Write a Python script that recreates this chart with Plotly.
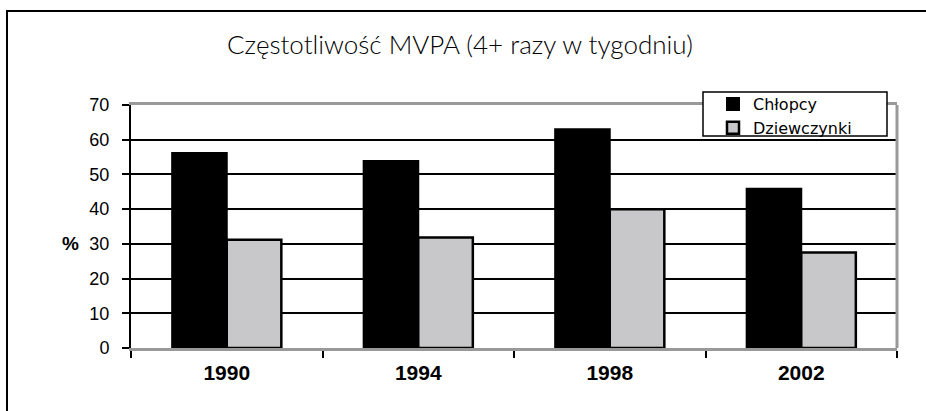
import plotly.graph_objects as go

years = ["1990", "1994", "1998", "2002"]
boys = [56.2, 53.9, 63.0, 45.9]
girls = [31.2, 31.8, 40.0, 27.5]
series_names = ["Chłopcy", "Dziewczynki"]
title_text = "Częstotliwość MVPA (4+ razy w tygodniu)"
y_ticks = [0, 10, 20, 30, 40, 50, 60, 70]

W, H = 926, 411
L, R, T, B = 131, 29, 105, 63
pw, ph = W - L - R, H - T - B

def px_x(x):
    return (x - L) / pw

def px_y(y):
    return (H - B - y) / ph

fig = go.Figure()
fig.add_trace(go.Bar(x=years, y=boys, name=series_names[0],
                     marker=dict(color="#000000", line=dict(color="#000000", width=2))))
fig.add_trace(go.Bar(x=years, y=girls, name=series_names[1],
                     marker=dict(color="#c8c8ca", line=dict(color="#000000", width=2.5))))

shapes = [
    # outer frame
    dict(type="rect", xref="paper", yref="paper",
         x0=px_x(7), x1=px_x(940), y0=px_y(430), y1=px_y(11),
         line=dict(color="#000000", width=2), fillcolor="rgba(0,0,0,0)", layer="below"),
    # right gray border of plot area
    dict(type="line", xref="paper", yref="paper", x0=1, x1=1, y0=0, y1=1,
         line=dict(color="#999999", width=3)),
    # legend box
    dict(type="rect", xref="paper", yref="paper",
         x0=px_x(703), x1=px_x(887), y0=px_y(136), y1=px_y(92),
         line=dict(color="#000000", width=1.5), fillcolor="#ffffff", layer="above"),
]

annotations = [
    dict(text="<b>%</b>", xref="paper", yref="paper", x=px_x(70), y=px_y(243),
         xanchor="center", yanchor="middle", showarrow=False,
         font=dict(family="Liberation Sans, Arial", size=19, color="#000000")),
]

fig.update_layout(
    width=W, height=H,
    margin=dict(l=L, r=R, t=T, b=B),
    paper_bgcolor="#ffffff", plot_bgcolor="rgba(0,0,0,0)",
    barmode="group", bargap=0.43, bargroupgap=0,
    showlegend=True,
    legend=dict(x=px_x(713), y=px_y(87), xanchor="left", yanchor="top",
                bgcolor="rgba(0,0,0,0)", borderwidth=0,
                font=dict(family="DejaVu Sans", size=16, color="#000000"),
                itemwidth=30, tracegroupgap=0),
    title=dict(text=title_text, x=460 / W, xref="container", xanchor="center",
               y=1 - 45 / H, yanchor="middle",
               font=dict(family="Lato, Open Sans", size=26, color="#000000", weight=300)),
    shapes=shapes,
    annotations=annotations,
    xaxis=dict(type="category", showline=True, linecolor="#999999", linewidth=2.5, mirror=True,
               ticks="outside", tickson="boundaries", ticklen=7, tickcolor="#000000", tickwidth=1.5,
               showgrid=False, ticklabelstandoff=4,
               tickfont=dict(family="Liberation Sans, Arial", size=21, color="#000000", weight="bold")),
    yaxis=dict(range=[0, 70], tickvals=y_ticks, showline=True, linecolor="#000000", linewidth=2,
               ticks="outside", ticklen=7, tickcolor="#000000", tickwidth=1.5,
               showgrid=True, gridcolor="#000000", gridwidth=1.8, zeroline=False,
               ticklabelstandoff=9,
               tickfont=dict(family="Liberation Sans, Arial", size=18, color="#000000")),
)

fig.write_html("out.html", config={"displayModeBar": False},
               post_script="document.body.style.margin='0';document.body.style.overflow='hidden';")
